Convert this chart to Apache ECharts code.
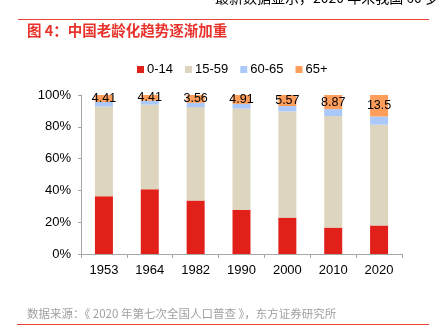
<!DOCTYPE html>
<html><head><meta charset="utf-8">
<script src="https://cdn.jsdelivr.net/npm/echarts@6/dist/echarts.min.js"></script>
<style>html,body{margin:0;padding:0;background:#fff}#c{width:442px;height:328px}</style>
</head><body><div id="c"></div>
<script>
const categories = ['1953','1964','1982','1990','2000','2010','2020'];
const age0_14 = [36.28, 40.69, 33.59, 27.69, 22.89, 16.60, 17.95];
const age15_59 = [56.40, 53.23, 58.79, 63.74, 66.78, 70.14, 63.35];
const age60_65 = [2.91, 2.52, 2.71, 3.00, 3.37, 4.39, 5.20];
const age65p = [4.41, 3.56, 4.91, 5.57, 6.96, 8.87, 13.50];
const age65Labels = ['4.41','4.41','3.56','4.91','5.57','8.87','13.5'];
const yTicks = ['0%','20%','40%','60%','80%','100%'];
const seriesNames = ['0-14','15-59','60-65','65+'];
const colors = ['#E2201A','#DED5BE','#AAC9FA','#FF9E5A'];

const chart = echarts.init(document.getElementById('c'), null, {renderer:'canvas'});
const F = '"Liberation Sans", Arial, sans-serif';
const CJK = '"Noto Sans CJK SC", sans-serif';
const dataSets = [age0_14, age15_59, age60_65, age65p];
const series = dataSets.map((d, i) => ({
  name: seriesNames[i], type: 'bar', stack: 'all', data: d, barWidth: 18,
  itemStyle: {color: colors[i]},
  label: i === 3 ? {show: true, position: 'inside', color: '#000', fontSize: 12.5, fontFamily: F,
    formatter: p => age65Labels[p.dataIndex]} : {show: false}
}));
chart.setOption({
  animation: false,
  color: colors,
  graphic: [
    {type:'text', left: 215, top: -9, style:{text:'最新数据显示，2020 年末我国 60 岁', font:'14px '+CJK, fill:'#000'}},
    {type:'line', shape:{x1:18,y1:19.5,x2:429,y2:19.5}, style:{stroke:'#E8423C', lineWidth:1}},
    {type:'text', left: 27, top: 23, style:{text:'图 4：中国老龄化趋势逐渐加重', font:'bold 14.5px '+CJK, fill:'#E8332C'}},
    {type:'text', left: 27, top: 308, style:{text:'数据来源：《 2020 年第七次全国人口普查 》，东方证券研究所', font:'11.5px '+CJK, fill:'#A0A0A0'}},
    {type:'line', shape:{x1:17,y1:324.5,x2:429,y2:324.5}, style:{stroke:'#E8423C', lineWidth:1}}
  ],
  legend: {
    top: 58, left: 132, itemWidth: 7, itemHeight: 7, itemGap: 12, icon: 'rect',
    textStyle: {fontSize: 13, fontFamily: F, color: '#000', padding:[0,0,0,-2]},
    data: seriesNames
  },
  grid: {left: 81, right: 40, top: 95, bottom: 74},
  xAxis: {
    type: 'category', data: categories,
    axisLine: {lineStyle: {color: '#A6A6A6'}},
    axisTick: {show: true, length: 4, lineStyle: {color: '#A6A6A6'}},
    axisLabel: {fontSize: 13, fontFamily: F, color: '#000', margin: 10}
  },
  yAxis: {
    type: 'value', min: 0, max: 100, interval: 20,
    axisLine: {show: true, lineStyle: {color: '#A6A6A6'}},
    axisTick: {show: true, length: 3, lineStyle: {color: '#A6A6A6'}},
    splitLine: {show: false},
    axisLabel: {fontSize: 13, fontFamily: F, color: '#000', margin: 10,
      formatter: v => yTicks[Math.round(v / 20)]}
  },
  series: series
});
</script></body></html>
